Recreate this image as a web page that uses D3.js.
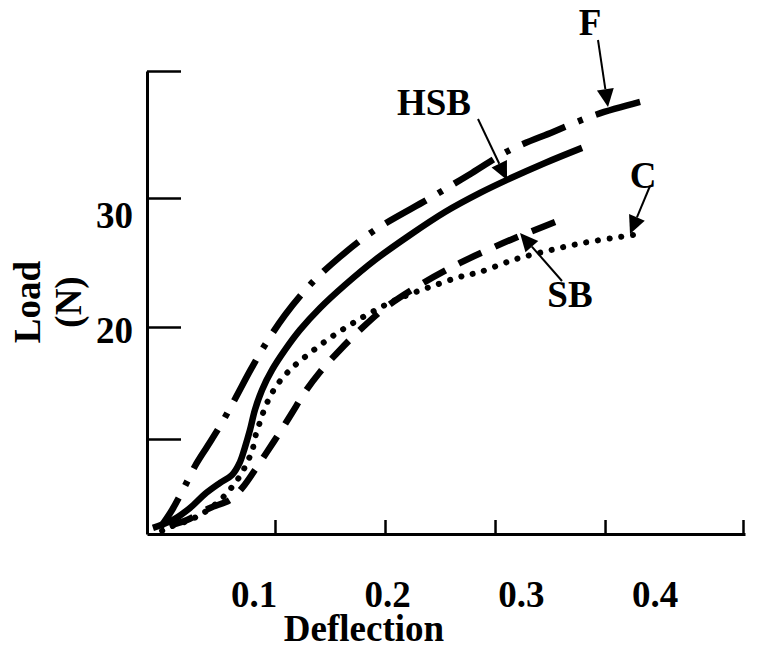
<!DOCTYPE html>
<html>
<head>
<meta charset="utf-8">
<script src="https://cdn.jsdelivr.net/npm/d3@7"></script>
<style>
  html, body { margin: 0; padding: 0; background: #fff; }
  svg text { font-family: "Liberation Serif", "Times New Roman", serif; font-weight: bold; fill: #000; }
</style>
</head>
<body>
<svg id="chart" width="765" height="650"></svg>
<script>
// ---------- data ----------
const xTickLabels = ["0.1", "0.2", "0.3", "0.4"];
const xLabelValues = [0.1, 0.2, 0.3, 0.4];
const xTickValues = [0.1157, 0.198, 0.2803, 0.3626, 0.4658];
const yTickLabels = ["30", "20"];
const yLabelValues = [30, 20];
const yTickValues = [39.84, 30, 20, 11.32];

const seriesNames = ["F", "HSB", "SB", "C"];

const fDeflection = [0.0297, 0.0387, 0.0476, 0.0559, 0.0648, 0.0746, 0.0858, 0.0970, 0.1082, 0.1232, 0.1419, 0.1643, 0.1905, 0.2332, 0.2631, 0.2915, 0.3237, 0.3551, 0.3888];
const fLoad       = [4.42, 5.81, 7.52, 9.22, 10.70, 12.33, 14.42, 16.59, 18.60, 20.93, 23.26, 25.43, 27.52, 30.08, 31.94, 33.72, 35.12, 36.43, 37.44];

const hsbDeflection = [0.0244, 0.0394, 0.0521, 0.0633, 0.0746, 0.0835, 0.0895, 0.0933, 0.0970, 0.1007, 0.1060, 0.1135, 0.1232, 0.1344, 0.1494, 0.1681, 0.1905, 0.2167, 0.2429, 0.2691, 0.2893, 0.3177, 0.3454];
const hsbLoad       = [4.42, 5.04, 5.97, 7.05, 7.91, 8.53, 9.53, 10.70, 12.02, 13.57, 15.12, 16.67, 18.22, 19.77, 21.47, 23.26, 25.19, 27.13, 28.91, 30.39, 31.40, 32.71, 33.88];

const sbDeflection = [0.0282, 0.0372, 0.0499, 0.0671, 0.0820, 0.0918, 0.1007, 0.1097, 0.1195, 0.1284, 0.1382, 0.1494, 0.1643, 0.1793, 0.1980, 0.2242, 0.2541, 0.2781, 0.2953, 0.3102, 0.3252];
const sbLoad       = [3.95, 4.57, 5.04, 5.97, 6.59, 7.60, 8.91, 10.31, 11.86, 13.33, 14.96, 16.51, 18.22, 19.77, 21.47, 23.26, 24.96, 26.12, 26.90, 27.52, 28.14];

const cDeflection = [0.0282, 0.0372, 0.0521, 0.0633, 0.0731, 0.0805, 0.0858, 0.0910, 0.0948, 0.0985, 0.1007, 0.1045, 0.1097, 0.1172, 0.1284, 0.1419, 0.1569, 0.1718, 0.1883, 0.2077, 0.2317, 0.2541, 0.2691, 0.2938, 0.3192, 0.3461, 0.3738, 0.3835];
const cLoad       = [4.03, 4.50, 5.04, 5.66, 6.43, 7.21, 7.91, 8.68, 9.53, 10.31, 11.40, 12.64, 14.11, 15.50, 16.82, 17.98, 19.15, 20.16, 21.16, 22.17, 23.10, 23.88, 24.26, 25.19, 25.89, 26.51, 26.98, 27.13];

// ---------- layout ----------
const svg = d3.select("#chart");
const x = d3.scaleLinear().domain([0.01995, 0.4673]).range([147, 745]);
const y = d3.scaleLinear().domain([3.95, 39.84]).range([534, 71]);
const FONT = 37;

// axes
const xAxis = d3.axisTop(x).tickValues(xTickValues).tickSize(14).tickSizeOuter(0).tickFormat("");
const gx = svg.append("g").attr("transform", "translate(0,534)").call(xAxis);
gx.select(".domain").attr("stroke-width", 3);
gx.selectAll(".tick line").attr("stroke-width", 2.5);

const yAxis = d3.axisRight(y).tickValues(yTickValues).tickSize(34).tickSizeOuter(0).tickFormat("");
const gy = svg.append("g").attr("transform", "translate(147,0)").call(yAxis);
gy.select(".domain").attr("stroke-width", 3);
gy.selectAll(".tick line").attr("stroke-width", 2.5);

// tick labels
svg.append("g").selectAll("text").data(xTickLabels).join("text")
  .attr("x", (d, i) => x(xLabelValues[i]))
  .attr("y", 607)
  .attr("text-anchor", "middle")
  .attr("font-size", FONT)
  .text(d => d);

const yLabelShift = [30, 16];
svg.append("g").selectAll("text").data(yTickLabels).join("text")
  .attr("x", 133)
  .attr("y", (d, i) => y(yLabelValues[i]) + yLabelShift[i])
  .attr("text-anchor", "end")
  .attr("font-size", FONT)
  .text(d => d);

// axis titles
svg.append("text").attr("x", 364).attr("y", 641).attr("text-anchor", "middle")
  .attr("font-size", FONT).text("Deflection");
svg.append("text").attr("transform", "translate(40,302) rotate(-90)").attr("text-anchor", "middle")
  .attr("font-size", FONT).text("Load");
svg.append("text").attr("transform", "translate(81,302) rotate(-90)").attr("text-anchor", "middle")
  .attr("font-size", FONT).text("(N)");

// curves (drawn from their upper end so the stroke pattern matches there)
const line = d3.line().x(d => x(d[0])).y(d => y(d[1])).curve(d3.curveCatmullRom.alpha(0.5));
const zip = (a, b) => a.map((v, i) => [v, b[i]]).reverse();
const curves = [
  { name: "F",   pts: zip(fDeflection, fLoad),     dash: "46 14 5 14", cap: "butt",  w: 6.5 },
  { name: "HSB", pts: zip(hsbDeflection, hsbLoad), dash: null,         cap: "butt",  w: 6.5 },
  { name: "SB",  pts: zip(sbDeflection, sbLoad),   dash: "25 15",      cap: "butt",  w: 6.5 },
  { name: "C",   pts: zip(cDeflection, cLoad),     dash: "0.1 11.7",   cap: "round", w: 6 }
];
svg.append("g").selectAll("path").data(curves).join("path")
  .attr("d", d => line(d.pts))
  .attr("fill", "none")
  .attr("stroke", "#000")
  .attr("stroke-width", d => d.w)
  .attr("stroke-linecap", d => d.cap)
  .attr("stroke-dasharray", d => d.dash);

// annotations (label + arrow)
const annotations = [
  { label: seriesNames[0], tx: 590, ty: 35,  x1: 598, y1: 40,  x2: 608, y2: 107 },
  { label: seriesNames[1], tx: 434, ty: 115, x1: 478, y1: 119, x2: 507, y2: 180 },
  { label: seriesNames[3], tx: 643, ty: 188, x1: 650, y1: 186, x2: 630, y2: 234 },
  { label: seriesNames[2], tx: 570, ty: 307, x1: 562, y1: 281, x2: 520, y2: 233 }
];
const ag = svg.append("g");
annotations.forEach(a => {
  ag.append("text").attr("x", a.tx).attr("y", a.ty).attr("text-anchor", "middle")
    .attr("font-size", FONT).text(a.label);
  const dx = a.x2 - a.x1, dy = a.y2 - a.y1, L = Math.hypot(dx, dy);
  const ux = dx / L, uy = dy / L;
  const hl = 18, hw = 8.5;
  const bx = a.x2 - ux * hl, by = a.y2 - uy * hl;
  ag.append("line").attr("x1", a.x1).attr("y1", a.y1).attr("x2", bx).attr("y2", by)
    .attr("stroke", "#000").attr("stroke-width", 2);
  ag.append("path")
    .attr("d", `M${a.x2},${a.y2}L${bx - uy * hw},${by + ux * hw}L${bx + uy * hw},${by - ux * hw}Z`)
    .attr("fill", "#000");
});
</script>
</body>
</html>
